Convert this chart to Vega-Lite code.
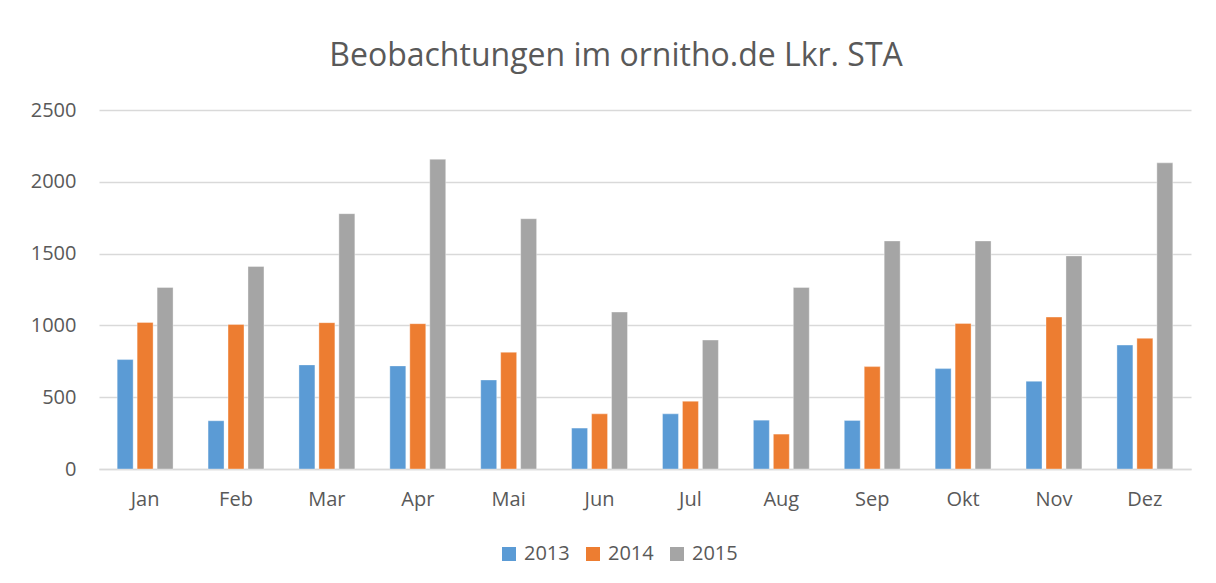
{
  "$schema": "https://vega.github.io/schema/vega-lite/v6.json",
  "autosize": "none",
  "width": 1092,
  "height": 359,
  "padding": {"left": 99, "top": 110, "right": 25, "bottom": 114},
  "background": "white",
  "title": {
    "text": "Beobachtungen im ornitho.de Lkr. STA",
    "font": "Open Sans",
    "fontSize": 32,
    "fontWeight": "normal",
    "color": "#595959",
    "anchor": "middle",
    "dx": -29,
    "offset": 27
  },
  "data": {
    "values": [
      {"month": "Jan", "year": "2013", "value": 762},
      {"month": "Jan", "year": "2014", "value": 1021},
      {"month": "Jan", "year": "2015", "value": 1264},
      {"month": "Feb", "year": "2013", "value": 336},
      {"month": "Feb", "year": "2014", "value": 1007},
      {"month": "Feb", "year": "2015", "value": 1410},
      {"month": "Mar", "year": "2013", "value": 725},
      {"month": "Mar", "year": "2014", "value": 1019},
      {"month": "Mar", "year": "2015", "value": 1778},
      {"month": "Apr", "year": "2013", "value": 718},
      {"month": "Apr", "year": "2014", "value": 1012},
      {"month": "Apr", "year": "2015", "value": 2157},
      {"month": "Mai", "year": "2013", "value": 620},
      {"month": "Mai", "year": "2014", "value": 813},
      {"month": "Mai", "year": "2015", "value": 1743},
      {"month": "Jun", "year": "2013", "value": 285},
      {"month": "Jun", "year": "2014", "value": 384},
      {"month": "Jun", "year": "2015", "value": 1093},
      {"month": "Jul", "year": "2013", "value": 384},
      {"month": "Jul", "year": "2014", "value": 472},
      {"month": "Jul", "year": "2015", "value": 898},
      {"month": "Aug", "year": "2013", "value": 340},
      {"month": "Aug", "year": "2014", "value": 243},
      {"month": "Aug", "year": "2015", "value": 1264},
      {"month": "Sep", "year": "2013", "value": 338},
      {"month": "Sep", "year": "2014", "value": 713},
      {"month": "Sep", "year": "2015", "value": 1588},
      {"month": "Okt", "year": "2013", "value": 699},
      {"month": "Okt", "year": "2014", "value": 1014},
      {"month": "Okt", "year": "2015", "value": 1588},
      {"month": "Nov", "year": "2013", "value": 611},
      {"month": "Nov", "year": "2014", "value": 1058},
      {"month": "Nov", "year": "2015", "value": 1484},
      {"month": "Dez", "year": "2013", "value": 863},
      {"month": "Dez", "year": "2014", "value": 910},
      {"month": "Dez", "year": "2015", "value": 2132}
    ]
  },
  "mark": {"type": "bar", "stroke": "white", "strokeWidth": 0.6, "strokeOpacity": 0.6},
  "encoding": {
    "x": {
      "field": "month",
      "type": "nominal",
      "sort": ["Jan", "Feb", "Mar", "Apr", "Mai", "Jun", "Jul", "Aug", "Sep", "Okt", "Nov", "Dez"],
      "scale": {"paddingInner": 0.385, "paddingOuter": 0.2},
      "axis": {
        "title": null,
        "labelAngle": 0,
        "labelFont": "Open Sans",
        "labelFontSize": 20,
        "labelColor": "#595959",
        "labelPadding": 20,
        "ticks": false,
        "domain": true,
        "domainColor": "#d9d9d9",
        "domainWidth": 1.5,
        "grid": false
      }
    },
    "xOffset": {
      "field": "year",
      "type": "nominal",
      "scale": {"paddingInner": 0.2, "paddingOuter": 0}
    },
    "y": {
      "field": "value",
      "type": "quantitative",
      "scale": {"domain": [0, 2500]},
      "axis": {
        "title": null,
        "values": [0, 500, 1000, 1500, 2000, 2500],
        "format": "d",
        "labelFont": "Open Sans",
        "labelFontSize": 20,
        "labelColor": "#595959",
        "labelPadding": 23,
        "ticks": false,
        "domain": false,
        "grid": true,
        "gridColor": "#d9d9d9",
        "gridWidth": 1.5
      }
    },
    "color": {
      "field": "year",
      "type": "nominal",
      "scale": {"domain": ["2013", "2014", "2015"], "range": ["#5B9BD5", "#ED7D31", "#A5A5A5"]},
      "legend": {
        "title": null,
        "orient": "none",
        "legendX": 400,
        "legendY": 434,
        "direction": "horizontal",
        "symbolType": "square",
        "symbolSize": 196,
        "symbolStrokeWidth": 0,
        "labelFont": "Open Sans",
        "labelFontSize": 20,
        "labelColor": "#595959",
        "labelOffset": 5,
        "columnPadding": 13
      }
    }
  },
  "config": {"view": {"stroke": null}}
}
